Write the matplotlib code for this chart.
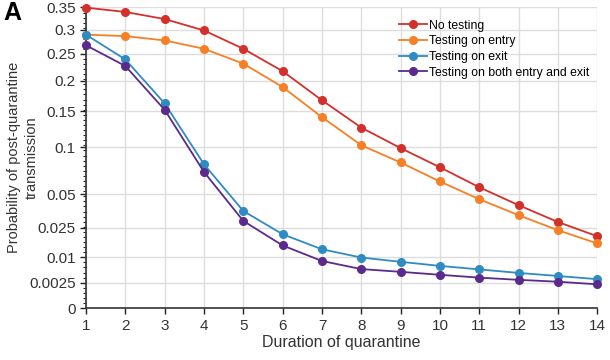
import numpy as np
import matplotlib.pyplot as plt

plt.rcParams['font.family'] = ['Liberation Sans', 'DejaVu Sans']

days = list(range(1, 15))
no_testing = [0.349, 0.339, 0.323, 0.298, 0.260, 0.217, 0.167, 0.126, 0.099, 0.0767,
              0.0565, 0.041, 0.0287, 0.020]
entry = [0.289, 0.286, 0.277, 0.260, 0.231, 0.189, 0.141, 0.1026, 0.082, 0.062,
         0.0459, 0.0334, 0.0235, 0.0162]
exit_ = [0.289, 0.239, 0.162, 0.080, 0.0365, 0.0211, 0.0134, 0.0099, 0.0083, 0.0069,
         0.0058, 0.0048, 0.0040, 0.00325]
both = [0.267, 0.2266, 0.152, 0.0717, 0.0294, 0.0152, 0.0086, 0.0059, 0.0051, 0.0043,
        0.0036, 0.0031, 0.0027, 0.0022]

labels = ['No testing', 'Testing on entry', 'Testing on exit', 'Testing on both entry and exit']
colors = ['#d4302b', '#f77f25', '#2f8cc2', '#5b2a8d']
yticks = [0, 0.0025, 0.01, 0.025, 0.05, 0.1, 0.15, 0.2, 0.25, 0.3, 0.35]
ytick_labels = ['0', '0.0025', '0.01', '0.025', '0.05', '0.1', '0.15', '0.2', '0.25', '0.3', '0.35']

fig = plt.figure(figsize=(6.1, 3.6), dpi=100)
ax = fig.add_axes([0.141, 0.144, 0.838, 0.836])

# square-root y axis
ax.set_yscale('function', functions=(lambda v: np.sqrt(np.clip(v, 0, None)), lambda v: v ** 2))

for series, lab, col in zip([no_testing, entry, exit_, both], labels, colors):
    ax.plot(days, series, '-o', color=col, label=lab, lw=1.3, ms=5.5, clip_on=False, zorder=3)

ax.set_xlim(1, 14)
ax.set_ylim(0, 0.35)
ax.set_xticks(days)
ax.set_yticks(yticks)
ax.set_yticklabels(ytick_labels)
minor = [(k * 0.01) ** 2 for k in range(0, 60)]
ax.set_yticks(minor, minor=True)
ax.tick_params(axis='both', labelsize=11, length=4, width=1, colors='#222222', labelcolor='#333333')
ax.tick_params(axis='y', which='minor', length=2.5, width=0.8, colors='#222222')
ax.grid(True, color='#dddddd', lw=1)
ax.set_axisbelow(True)
for s in ['top', 'right']:
    ax.spines[s].set_visible(False)
for s in ['left', 'bottom']:
    ax.spines[s].set_color('#333333')
    ax.spines[s].set_linewidth(1.2)

ax.set_xlabel('Duration of quarantine', fontsize=11.5, color='#333333', labelpad=2)
ax.set_ylabel('Probability of post-quarantine\ntransmission', fontsize=10.5, color='#333333',
              linespacing=1.35)
ax.yaxis.set_label_coords(-0.093, 0.5)

ax.legend(loc='upper left', bbox_to_anchor=(0.603, 0.975), frameon=False, fontsize=8.8,
          handlelength=2.3, handletextpad=0.15, labelspacing=0.3, borderaxespad=0)

fig.text(0.005, 0.997, 'A', fontsize=18, fontweight='bold', va='top', ha='left')

fig.savefig('out.png', dpi=100)
